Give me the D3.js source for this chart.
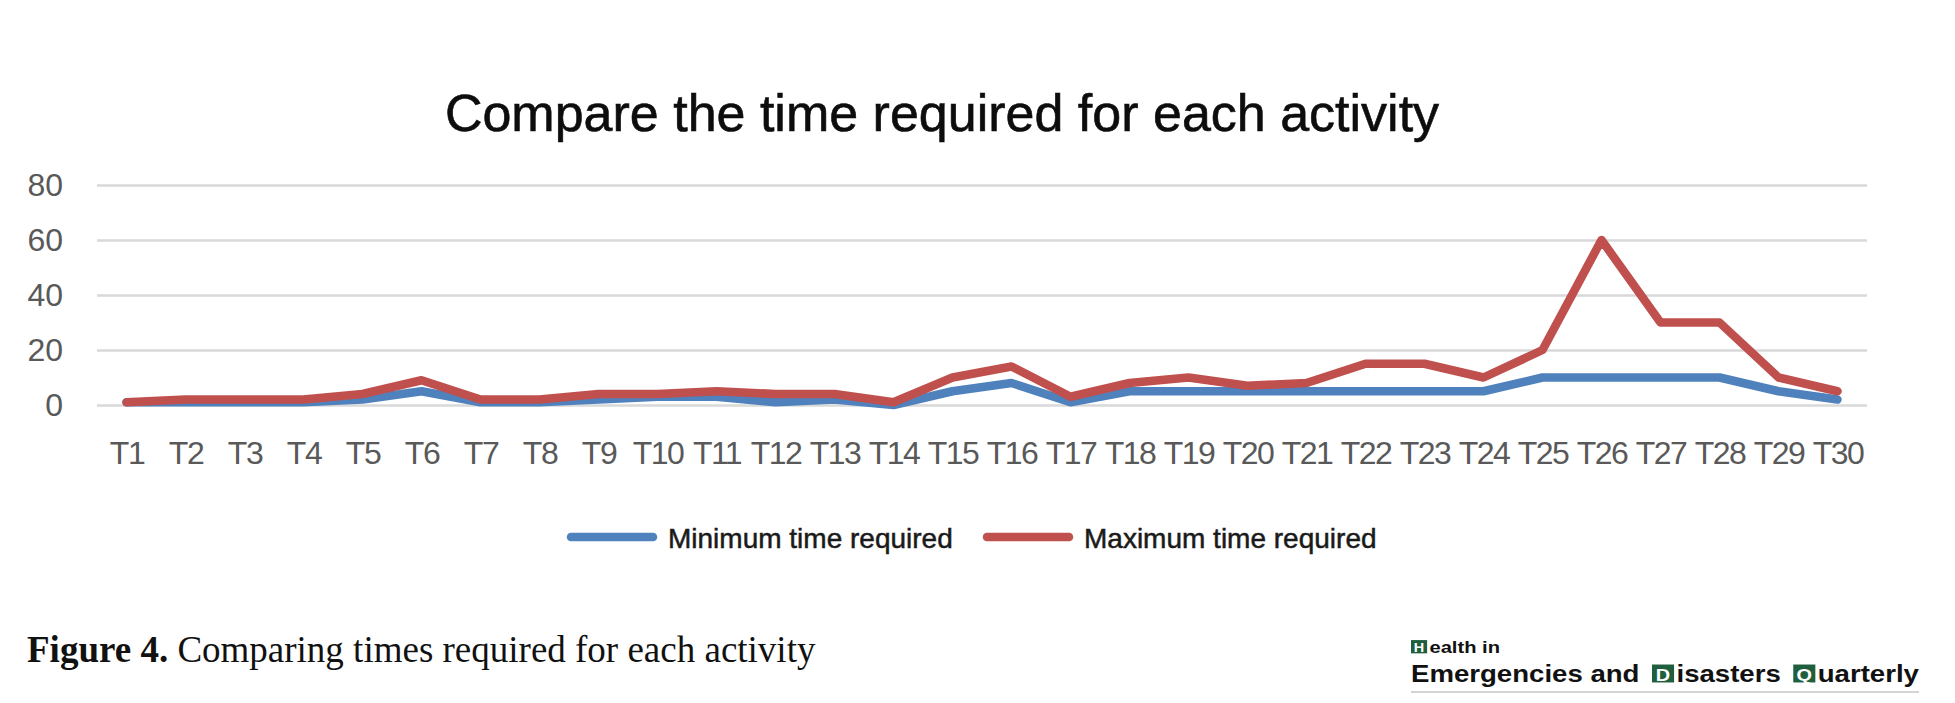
<!DOCTYPE html>
<html>
<head>
<meta charset="utf-8">
<script src="https://cdn.jsdelivr.net/npm/d3@7"></script>
<style>
    body { margin: 0; background: #fff; }
    svg { display: block; }
</style>
</head>
<body>
<svg id="chart" width="1955" height="703"></svg>
<script>
const categories = [
    'T1', 'T2', 'T3', 'T4', 'T5', 'T6', 'T7', 'T8', 'T9', 'T10',
    'T11', 'T12', 'T13', 'T14', 'T15', 'T16', 'T17', 'T18', 'T19', 'T20',
    'T21', 'T22', 'T23', 'T24', 'T25', 'T26', 'T27', 'T28', 'T29', 'T30',
];
const min_time = [
    1, 1, 1, 1, 2, 5, 1, 1, 2, 3,
    3, 1, 2, 0, 5, 8, 1, 5, 5, 5,
    5, 5, 5, 5, 10, 10, 10, 10, 5, 2,
];
const max_time = [
    1, 2, 2, 2, 4, 9, 2, 2, 4, 4,
    5, 4, 4, 1, 10, 14, 3, 8, 10, 7,
    8, 15, 15, 10, 20, 60, 30, 30, 10, 5,
];
const y_ticks = [0, 20, 40, 60, 80];
const series_names = ['Minimum time required', 'Maximum time required'];
const series_colors = ['#4f81bd', '#c0504d'];

const chart_title = 'Compare the time required for each activity';


function draw_chart() {
    const svg = d3.select('#chart');
    const left = 97, right = 1867, top = 185, bottom = 405;

    const x = d3.scaleBand().domain(categories).range([left, right]);
    const y = d3.scaleLinear().domain([0, 80]).range([bottom, top]);
    const cx = c => x(c) + x.bandwidth() / 2;

    svg.append('text')
        .attr('x', 942)
        .attr('y', 131)
        .attr('text-anchor', 'middle')
        .style('font', '52px "Liberation Sans", Arial, sans-serif')
        .style('fill', '#0d0d0d')
        .style('stroke', '#0d0d0d')
        .style('stroke-width', 0.6)
        .text(chart_title);

    // gridlines + y labels
    const y_axis = svg.append('g')
        .attr('transform', `translate(${left},0)`)
        .call(
            d3.axisLeft(y)
                .tickValues(y_ticks)
                .tickSize(-(right - left))
                .tickPadding(34)
        );
    y_axis.select('.domain').remove();
    y_axis.selectAll('line')
        .attr('stroke', '#d9d9d9')
        .attr('stroke-width', 2.5);
    y_axis.selectAll('text')
        .style('font', '32px "Liberation Sans", Arial, sans-serif')
        .style('fill', '#595959');

    const x_axis = svg.append('g')
        .attr('transform', `translate(0,${bottom})`)
        .call(
            d3.axisBottom(d3.scalePoint().domain(categories).range([cx('T1'), cx('T30')]))
                .tickSize(0)
                .tickPadding(36)
        );
    x_axis.select('.domain').remove();
    x_axis.selectAll('text')
        .style('font', '32px "Liberation Sans", Arial, sans-serif')
        .style('letter-spacing', '-1.5px')
        .style('fill', '#595959');

    const line = d3.line()
        .x((d, i) => cx(categories[i]))
        .y(d => y(d));

    [min_time, max_time].forEach((values, i) => {
        svg.append('path')
            .attr('d', line(values))
            .attr('fill', 'none')
            .attr('stroke', series_colors[i])
            .attr('stroke-width', 8.5)
            .attr('stroke-linejoin', 'round')
            .attr('stroke-linecap', 'round');
    });

    // legend
    const legend_x = [571, 987];
    series_names.forEach((name, i) => {
        const g = svg.append('g').attr('transform', `translate(${legend_x[i]},537)`);
        g.append('line')
            .attr('x1', 0).attr('x2', 82)
            .attr('stroke', series_colors[i])
            .attr('stroke-width', 8.5)
            .attr('stroke-linecap', 'round');
        g.append('text')
            .attr('x', 97)
            .attr('y', 11)
            .style('font', '28px "Liberation Sans", Arial, sans-serif')
            .style('fill', '#1a1a1a')
            .style('stroke', '#1a1a1a')
            .style('stroke-width', 0.5)
            .text(name);
    });

    draw_caption(svg);
    draw_logo(svg);
}


function draw_caption(svg) {
    const t = svg.append('text')
        .attr('x', 27)
        .attr('y', 662)
        .style('font', '37px "Liberation Serif", "Times New Roman", serif')
        .style('fill', '#111');
    t.append('tspan').style('font-weight', 'bold').text('Figure 4.');
    t.append('tspan').text(' Comparing times required for each activity');
}


function draw_logo(svg) {
    const green = '#1f5f3d';
    const font = 'bold 23px "Liberation Sans", Arial, sans-serif';

    // each row: pieces, boxed letters get a green square
    const rows = [
        {y: 653, size: 17, pieces: [['H', true], ['ealth in', false]]},
        {y: 682, size: 23, pieces: [
            ['Emergencies and', false], [' ', false], ['D', true], ['isasters', false],
            [' ', false], ['Q', true], ['uarterly', false],
        ]},
    ];
    const logo = svg.append('g');
    rows.forEach((row, r) => {
        const g = logo.append('g');
        let pos = 0;
        row.pieces.forEach(([str, boxed]) => {
            if (boxed) {
                const w = row.size * 0.8;
                g.append('rect')
                    .attr('x', pos).attr('y', row.y - row.size * 0.76)
                    .attr('width', w).attr('height', row.size * 0.78)
                    .attr('fill', green);
                g.append('text')
                    .attr('x', pos + w / 2).attr('y', row.y - 1)
                    .attr('text-anchor', 'middle')
                    .style('font', font).style('font-size', (row.size * 0.72) + 'px')
                    .style('fill', '#fff')
                    .text(str);
                pos += w + 2;
            } else if (str === ' ') {
                pos += row.size * 0.45;
            } else {
                const t = g.append('text')
                    .attr('x', pos).attr('y', row.y)
                    .style('font', font).style('font-size', row.size + 'px')
                    .style('fill', '#111')
                    .text(str);
                pos += t.node().getComputedTextLength();
            }
        });
        const target = r === 0 ? 89 : 508;
        g.attr('transform', `translate(1411,0) scale(${target / pos},1)`);
    });
    logo.append('line')
        .attr('x1', 1411).attr('x2', 1919)
        .attr('y1', 692).attr('y2', 692)
        .attr('stroke', '#aaa')
        .attr('stroke-width', 1.2);
}


draw_chart();
</script>
</body>
</html>
